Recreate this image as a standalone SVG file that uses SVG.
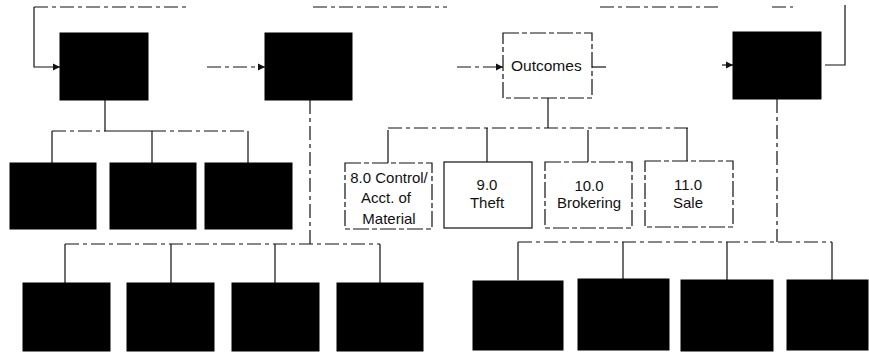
<svg xmlns="http://www.w3.org/2000/svg" width="869" height="353" viewBox="0 0 869 353">
  <style>
    .blk { fill: #000; stroke: #000; stroke-width: 1; }
    .box { fill: #fff; stroke: #111; stroke-width: 1.2; }
    .box.broken { stroke-dasharray: 16 3 5 3; }
    .ln { fill: none; stroke: #111; stroke-width: 1.2; }
    .ln.broken { stroke-dasharray: 14 4 4 4; }
    .lbl { font-family: "Liberation Sans", Arial, sans-serif; font-size: 15px; fill: #111; text-anchor: middle; }
    .title { font-family: "Liberation Sans", Arial, sans-serif; font-size: 15.5px; fill: #111; }
  </style>
  <defs>
    <marker id="arrow" markerWidth="8" markerHeight="8" refX="7" refY="4" orient="auto" markerUnits="userSpaceOnUse">
      <path d="M0,0.5 L7,4 L0,7.5 Z" fill="#111"/>
    </marker>
  </defs>
  <rect width="869" height="353" fill="#fff"/>

  <!-- connectors -->
  <g id="connectors">
    <!-- feedback loop across the top -->
    <path class="ln broken" d="M34,7 H187"/>
    <path class="ln broken" d="M313,7 H447"/>
    <path class="ln broken" d="M600,7 H718"/>
    <path class="ln broken" d="M772,7 H793"/>
    <path class="ln" d="M825,65 H845 V5"/>
    <path class="ln" d="M34,7 V67 H60" marker-end="url(#arrow)"/>
    <!-- horizontal flow between the top boxes -->
    <path class="ln broken" d="M207,67 H265" marker-end="url(#arrow)"/>
    <path class="ln broken" d="M457,67 H503" marker-end="url(#arrow)"/>
    <path class="ln broken" d="M592,67 H607"/>
    <path class="ln" d="M722,65 H733" marker-end="url(#arrow)"/>

    <!-- first box to its three children -->
    <path class="ln" d="M105,100 V131 H152"/>
    <path class="ln broken" d="M52,131 H105 M152,131 H248"/>
    <path class="ln" d="M52,131 V163 M152,131 V163 M248,131 V163"/>

    <!-- second box to the lower-left row -->
    <path class="ln broken" d="M310,100 V244"/>
    <path class="ln broken" d="M65,244 H380"/>
    <path class="ln" d="M65,244 V283 M171,244 V283 M275,244 V283 M380,244 V283"/>

    <!-- Outcomes to its four categories -->
    <path class="ln" d="M548,98 V128"/>
    <path class="ln broken" d="M388,128 H688"/>
    <path class="ln" d="M388,130 V163 M487,128 V162 M588,130 V162 M687,128 V161"/>

    <!-- right box to the lower-right row -->
    <path class="ln broken" d="M777,99 V242"/>
    <path class="ln broken" d="M518,242 H832"/>
    <path class="ln" d="M518,242 V280 M623,242 V279 M727,242 V280 M832,242 V280"/>
  </g>

  <!-- top row -->
  <g id="box-a"><rect class="blk" x="60" y="33" width="88" height="67"/></g>
  <g id="box-b"><rect class="blk" x="265" y="33" width="87" height="67"/></g>
  <g id="outcomes">
    <rect class="box broken" x="503" y="33" width="89" height="65"/>
    <text class="title" x="511" y="71">Outcomes</text>
  </g>
  <g id="box-d"><rect class="blk" x="733" y="32" width="88" height="67"/></g>

  <!-- children of the first box -->
  <g id="box-a1"><rect class="blk" x="10" y="163" width="86" height="66"/></g>
  <g id="box-a2"><rect class="blk" x="110" y="163" width="86" height="66"/></g>
  <g id="box-a3"><rect class="blk" x="205" y="163" width="87" height="66"/></g>

  <!-- outcome categories -->
  <g id="cat-8">
    <rect class="box broken" x="345" y="163" width="87" height="66"/>
    <text class="lbl" x="389" y="183">8.0 Control/</text>
    <text class="lbl" x="386" y="203">Acct. of</text>
    <text class="lbl" x="389" y="224">Material</text>
  </g>
  <g id="cat-9">
    <rect class="box" x="444" y="162" width="88" height="66"/>
    <text class="lbl" x="487" y="190">9.0</text>
    <text class="lbl" x="487" y="208">Theft</text>
  </g>
  <g id="cat-10">
    <rect class="box broken" x="545" y="162" width="87" height="66"/>
    <text class="lbl" x="589" y="191">10.0</text>
    <text class="lbl" x="589" y="208">Brokering</text>
  </g>
  <g id="cat-11">
    <rect class="box broken" x="645" y="161" width="88" height="66"/>
    <text class="lbl" x="688" y="190">11.0</text>
    <text class="lbl" x="688" y="208">Sale</text>
  </g>

  <!-- lower-left row -->
  <g id="box-b1"><rect class="blk" x="23" y="283" width="87" height="68"/></g>
  <g id="box-b2"><rect class="blk" x="127" y="283" width="87" height="68"/></g>
  <g id="box-b3"><rect class="blk" x="232" y="283" width="87" height="68"/></g>
  <g id="box-b4"><rect class="blk" x="337" y="283" width="86" height="68"/></g>

  <!-- lower-right row -->
  <g id="box-d1"><rect class="blk" x="473" y="281" width="90" height="69"/></g>
  <g id="box-d2"><rect class="blk" x="578" y="279" width="91" height="71"/></g>
  <g id="box-d3"><rect class="blk" x="681" y="280" width="92" height="71"/></g>
  <g id="box-d4"><rect class="blk" x="787" y="280" width="81" height="70"/></g>
</svg>
